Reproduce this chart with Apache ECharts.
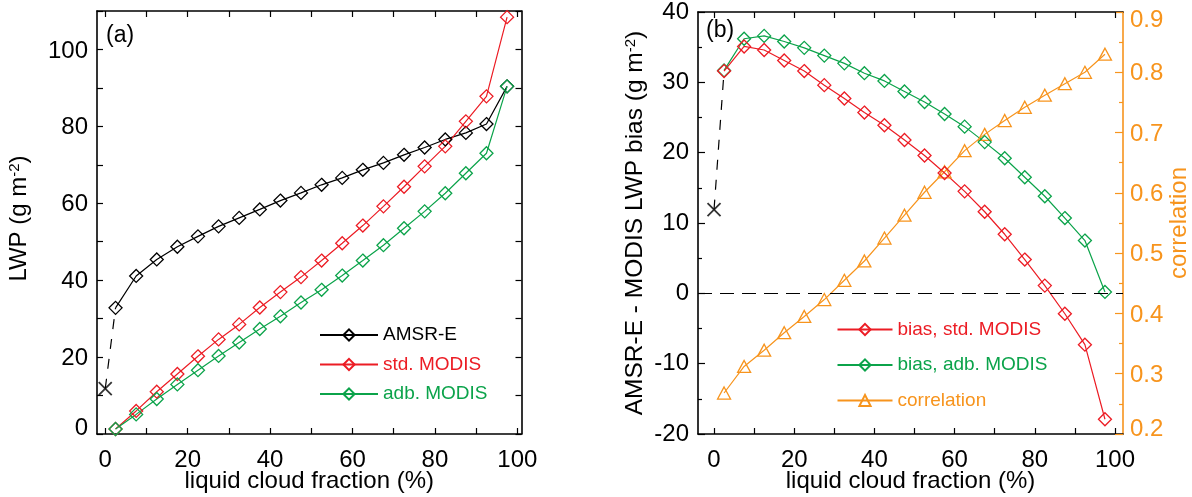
<!DOCTYPE html>
<html>
<head>
<meta charset="utf-8">
<script src="https://cdn.jsdelivr.net/npm/echarts@6/dist/echarts.min.js"></script>
<style>
  html, body { margin: 0; padding: 0; background: #fff; }
  #chart { width: 1192px; height: 497px; }
</style>
</head>
<body>
<div id="chart"></div>
<script>
// ---------------- data ----------------
const fraction = [2.5, 7.5, 12.5, 17.5, 22.5, 27.5, 32.5, 37.5, 42.5, 47.5,
                  52.5, 57.5, 62.5, 67.5, 72.5, 77.5, 82.5, 87.5, 92.5, 97.5];
// panel (a) LWP (g m-2)
const amsre    = [32.8, 41.1, 45.4, 48.7, 51.4, 54.0, 56.2, 58.4, 60.7, 62.7,
                  64.8, 66.6, 68.7, 70.5, 72.6, 74.5, 76.6, 78.3, 80.6, 90.4];
const stdModis = [1.3, 6.0, 11.0, 15.6, 20.2, 24.6, 28.5, 32.9, 36.9, 40.8,
                  45.1, 49.6, 54.2, 59.2, 64.3, 69.6, 74.8, 81.3, 87.8, 108.4];
const adbModis = [1.3, 5.1, 9.1, 12.9, 16.6, 20.3, 23.8, 27.3, 30.6, 34.2,
                  37.5, 41.2, 45.1, 49.1, 53.5, 57.9, 62.6, 67.8, 73.0, 90.4];
// panel (b) bias (g m-2) and correlation
const biasStd  = [31.6, 35.1, 34.6, 33.1, 31.6, 29.6, 27.7, 25.7, 23.9, 21.8,
                  19.6, 17.1, 14.5, 11.6, 8.4, 4.8, 1.1, -2.9, -7.3, -17.9];
const biasAdb  = [31.7, 36.2, 36.6, 35.8, 34.9, 33.8, 32.7, 31.3, 30.2, 28.7,
                  27.2, 25.5, 23.7, 21.5, 19.2, 16.5, 13.8, 10.7, 7.5, 0.2];
const correlation = [0.268, 0.312, 0.339, 0.368, 0.395, 0.423, 0.455, 0.487, 0.525, 0.563,
                     0.601, 0.635, 0.670, 0.697, 0.720, 0.742, 0.762, 0.781, 0.800, 0.830];
// zero-cloud-fraction (clear-sky) AMSR-E values
const clearFraction = 0;
const clearLWP = 11.8;
const clearBias = 11.9;
// ticks / labels
const xTicks  = [0, 10, 20, 30, 40, 50, 60, 70, 80, 90, 100];
const xLabels = [0, 20, 40, 60, 80, 100];

// ---------------- style ----------------
const FONT = "'Liberation Sans', Arial, Helvetica, sans-serif";
const BLACK = '#000000';
const RED = '#ec1c24';
const GREEN = '#0ba34a';
const ORANGE = '#f7941d';
const AX_W = 1.6;

const zip = (xs, ys) => xs.map((x, i) => [x, ys[i]]);

function xAxisDef(grid, pos, showLabel, min, max) {
  return {
    type: 'value', gridIndex: grid, position: pos, min: min, max: max,
    splitLine: { show: false },
    axisLine: { show: true, onZero: false, lineStyle: { color: BLACK, width: AX_W } },
    axisTick: { show: true, inside: true, length: 6, customValues: xTicks,
                lineStyle: { color: BLACK, width: 1.2 } },
    axisLabel: { show: showLabel, customValues: xLabels, margin: 14,
                 fontSize: 24, color: BLACK, fontFamily: FONT },
    name: showLabel ? 'liquid cloud fraction (%)' : '',
    nameLocation: 'middle', nameGap: 35, nameMoveOverlap: false,
    nameTextStyle: { fontSize: 24, color: BLACK, fontFamily: FONT }
  };
}

const chart = echarts.init(document.getElementById('chart'), null, { renderer: 'canvas' });

const diamondSeries = (name, data, color, xi, yi) => ({
  name: name, type: 'line', xAxisIndex: xi, yAxisIndex: yi,
  data: data, symbol: 'diamond', symbolSize: 13, showSymbol: true,
  lineStyle: { color: color, width: 1.2 },
  itemStyle: { color: 'rgba(255,255,255,0)', borderColor: color, borderWidth: 1.3 },
  z: 3
});

const crossSymbol = 'path://M0 0L10 10M10 0L0 10';

const option = {
  animation: false,
  backgroundColor: '#ffffff',
  textStyle: { fontFamily: FONT },
  grid: [
    { left: 97, right: 670.5, top: 11, bottom: 63, containLabel: false, outerBoundsMode: 'none' },
    { left: 698, right: 69, top: 12, bottom: 63, containLabel: false, outerBoundsMode: 'none' }
  ],
  xAxis: [
    xAxisDef(0, 'bottom', true, -2, 101),
    xAxisDef(0, 'top', false, -2, 101),
    xAxisDef(1, 'bottom', true, -4, 102),
    xAxisDef(1, 'top', false, -4, 102)
  ],
  yAxis: [
    { type: 'value', gridIndex: 0, position: 'left', min: 0, max: 110, interval: 10,
      splitLine: { show: false },
      axisLine: { show: true, onZero: false, lineStyle: { color: BLACK, width: AX_W } },
      axisTick: { show: true, inside: true, length: 6, lineStyle: { color: BLACK, width: 1.2 } },
      axisLabel: { margin: 9, fontSize: 24, color: BLACK, fontFamily: FONT, padding: [3, 0, 0, 0],
                   rich: { lo: { fontSize: 24, color: BLACK, fontFamily: FONT, padding: [0, 0, 14, 0] } },
                   formatter: v => v === 0 ? '{lo|0}' : ((v % 20 === 0 && v <= 100) ? String(v) : '') },
      name: 'LWP (g m{sup|-2})', nameLocation: 'middle', nameRotate: 90, nameGap: 66,
      nameTextStyle: { fontSize: 24, color: BLACK, fontFamily: FONT, padding: [0, 0, 0, 8],
                       rich: { sup: { fontSize: 15, verticalAlign: 'top', fontFamily: FONT, color: BLACK } } }
    },
    { type: 'value', gridIndex: 0, position: 'right', min: 0, max: 110, interval: 10,
      splitLine: { show: false },
      axisLine: { show: true, onZero: false, lineStyle: { color: BLACK, width: AX_W } },
      axisTick: { show: true, inside: true, length: 6, lineStyle: { color: BLACK, width: 1.2 } },
      axisLabel: { show: false }
    },
    { type: 'value', gridIndex: 1, position: 'left', min: -20, max: 40, interval: 10,
      splitLine: { show: false },
      axisLine: { show: true, onZero: false, lineStyle: { color: BLACK, width: AX_W } },
      axisTick: { show: true, inside: true, length: 7, lineStyle: { color: BLACK, width: 1.2 } },
      minorTick: { show: true, splitNumber: 2, length: 4, lineStyle: { color: BLACK, width: 1.2 } },
      axisLabel: { margin: 9, fontSize: 24, color: BLACK, fontFamily: FONT, padding: [5, 0, 0, 0] },
      name: 'AMSR-E - MODIS LWP bias (g m{sup|-2})', nameLocation: 'middle', nameRotate: 90, nameGap: 50,
      nameTextStyle: { fontSize: 24.5, color: BLACK, fontFamily: FONT,
                       rich: { sup: { fontSize: 15, verticalAlign: 'top', fontFamily: FONT, color: BLACK } } }
    },
    { type: 'value', gridIndex: 1, position: 'right', min: 0.2, max: 0.9, interval: 0.1,
      splitLine: { show: false },
      axisLine: { show: true, onZero: false, lineStyle: { color: ORANGE, width: AX_W } },
      axisTick: { show: true, inside: true, length: 8, lineStyle: { color: ORANGE, width: 1.2 } },
      minorTick: { show: true, splitNumber: 2, length: 4, lineStyle: { color: ORANGE, width: 1.2 } },
      axisLabel: { margin: 7, fontSize: 24, color: ORANGE, fontFamily: FONT, padding: [3, 0, 0, 0],
                   rich: {
                     lo: { fontSize: 24, color: ORANGE, fontFamily: FONT, padding: [0, 0, 12, 0] },
                     hi: { fontSize: 24, color: ORANGE, fontFamily: FONT, padding: [14, 0, 0, 0] }
                   },
                   formatter: v => {
                     const s = v.toFixed(1);
                     if (s === '0.2') return '{lo|' + s + '}';
                     if (s === '0.9') return '{hi|' + s + '}';
                     return s;
                   } },
      name: 'correlation', nameLocation: 'middle', nameRotate: 90, nameGap: 44,
      nameTextStyle: { fontSize: 24, color: ORANGE, fontFamily: FONT }
    }
  ],
  legend: [
    { orient: 'vertical', left: 319, top: 325.5, padding: 0,
      itemWidth: 58, itemHeight: 14, itemGap: 10.5, selectedMode: false,
      textStyle: { fontSize: 19, lineHeight: 19, fontFamily: FONT },
      data: [
        { name: 'AMSR-E', textStyle: { color: BLACK } },
        { name: 'std. MODIS', textStyle: { color: RED } },
        { name: 'adb. MODIS', textStyle: { color: GREEN } }
      ]
    },
    { orient: 'vertical', left: 836.5, top: 320, padding: 0,
      itemWidth: 55, itemHeight: 14, itemGap: 16.5, selectedMode: false,
      textStyle: { fontSize: 19, lineHeight: 19, fontFamily: FONT },
      data: [
        { name: 'bias, std. MODIS', textStyle: { color: RED } },
        { name: 'bias, adb. MODIS', textStyle: { color: GREEN } },
        { name: 'correlation', textStyle: { color: ORANGE } }
      ]
    }
  ],
  graphic: [
    { type: 'text', left: 106, top: 24, style: { text: '(a)', fontSize: 23, fill: BLACK, fontFamily: FONT } },
    { type: 'text', left: 706, top: 19, style: { text: '(b)', fontSize: 23, fill: BLACK, fontFamily: FONT } }
  ],
  series: [
    // panel (a)
    { name: 'clearA', type: 'line', xAxisIndex: 0, yAxisIndex: 0,
      data: [[clearFraction, clearLWP], [fraction[0], amsre[0]]],
      symbol: 'none', lineStyle: { color: BLACK, width: 1.2, type: [10, 10] }, z: 2 },
    { name: 'clearAx', type: 'scatter', xAxisIndex: 0, yAxisIndex: 0,
      data: [[clearFraction, clearLWP]], symbol: crossSymbol, symbolSize: 13,
      itemStyle: { color: 'none', borderColor: BLACK, borderWidth: 1.8 } },
    diamondSeries('AMSR-E', zip(fraction, amsre), BLACK, 0, 0),
    diamondSeries('std. MODIS', zip(fraction, stdModis), RED, 0, 0),
    diamondSeries('adb. MODIS', zip(fraction, adbModis), GREEN, 0, 0),
    // panel (b)
    { name: 'clearB', type: 'line', xAxisIndex: 2, yAxisIndex: 2,
      data: [[clearFraction, clearBias], [fraction[0], biasStd[0]]],
      symbol: 'none', lineStyle: { color: BLACK, width: 1.2, type: [10, 10] }, z: 2,
      markLine: { silent: true, symbol: ['none', 'none'], label: { show: false },
                  lineStyle: { color: BLACK, width: 1.2, type: [14, 8] },
                  data: [{ yAxis: 0 }] } },
    { name: 'clearBx', type: 'scatter', xAxisIndex: 2, yAxisIndex: 2,
      data: [[clearFraction, clearBias]], symbol: crossSymbol, symbolSize: 13,
      itemStyle: { color: 'none', borderColor: BLACK, borderWidth: 1.8 } },
    { name: 'correlation', type: 'line', xAxisIndex: 2, yAxisIndex: 3,
      data: zip(fraction, correlation), symbol: 'triangle', symbolSize: [13, 12], showSymbol: true,
      lineStyle: { color: ORANGE, width: 1.2 },
      itemStyle: { color: 'rgba(255,255,255,0)', borderColor: ORANGE, borderWidth: 1.3 }, z: 3 },
    diamondSeries('bias, adb. MODIS', zip(fraction, biasAdb), GREEN, 2, 2),
    diamondSeries('bias, std. MODIS', zip(fraction, biasStd), RED, 2, 2)
  ]
};
chart.setOption(option);
</script>
</body>
</html>
